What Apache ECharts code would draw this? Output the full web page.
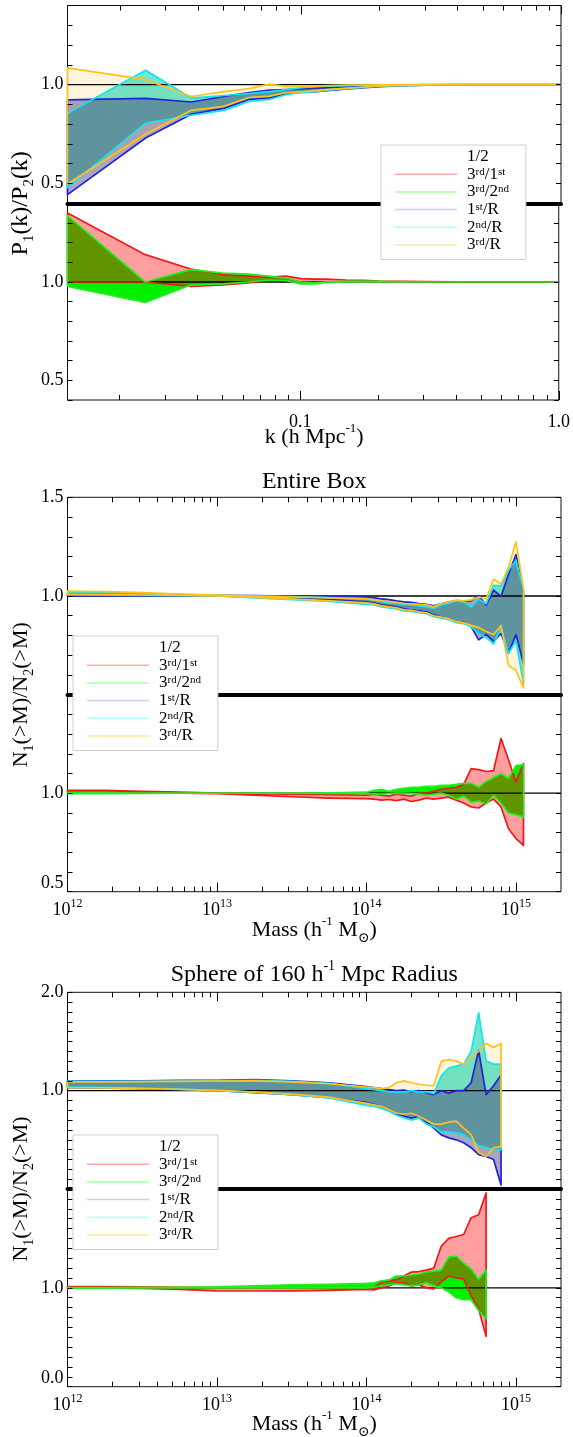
<!DOCTYPE html>
<html><head><meta charset="utf-8">
<script src="https://cdn.jsdelivr.net/npm/echarts@6.0.0/dist/echarts.min.js"></script>
<style>html,body{margin:0;padding:0;background:#fff}#c{width:573px;height:1437px}</style>
</head><body><div id="c"></div><script>
// ---------------- DATA ----------------
// Panel 1: power spectrum ratios, k in h/Mpc
const kValues = [0.01257, 0.02513, 0.03770, 0.05027, 0.06283, 0.07540, 0.08796, 0.10053, 0.11310, 0.12566, 0.15080, 0.17593, 0.20106, 0.25133, 0.30159, 0.40212, 0.50265, 0.62832, 0.75398, 0.87965, 1.0];
const pk1stR_hi = [0.923, 0.930, 0.912, 0.940, 0.960, 0.972, 0.975, 0.978, 0.982, 0.985, 0.990, 0.993, 0.996, 0.998, 0.999, 1.000, 1.000, 1.000, 1.000, 1.000, 1.000];
const pk1stR_lo = [0.444, 0.730, 0.850, 0.880, 0.925, 0.932, 0.955, 0.962, 0.965, 0.970, 0.978, 0.985, 0.990, 0.995, 0.997, 0.999, 1.000, 1.000, 1.000, 1.000, 1.000];
const pk2ndR_hi = [0.855, 1.073, 0.932, 0.945, 0.955, 0.965, 0.975, 0.985, 0.990, 0.992, 0.995, 0.997, 0.998, 0.999, 1.000, 1.000, 1.000, 1.000, 1.000, 1.000, 1.000];
const pk2ndR_lo = [0.480, 0.805, 0.845, 0.870, 0.915, 0.925, 0.950, 0.960, 0.965, 0.972, 0.980, 0.987, 0.992, 0.995, 0.997, 0.999, 1.000, 1.000, 1.000, 1.000, 1.000];
const pk3rdR_hi = [1.085, 1.025, 0.940, 0.965, 0.980, 1.003, 0.990, 0.990, 0.992, 0.995, 0.997, 0.998, 0.999, 1.000, 1.000, 1.000, 1.000, 1.000, 1.000, 1.000, 1.000];
const pk3rdR_lo = [0.498, 0.750, 0.870, 0.890, 0.935, 0.942, 0.960, 0.965, 0.970, 0.975, 0.982, 0.988, 0.993, 0.996, 0.998, 1.000, 1.000, 1.000, 1.000, 1.000, 1.000];
const pk3rd1st_hi = [1.351, 1.139, 1.066, 1.037, 1.030, 1.025, 1.030, 1.017, 1.015, 1.015, 1.010, 1.008, 1.005, 1.003, 1.002, 1.001, 1.000, 1.000, 1.000, 1.000, 1.000];
const pk3rd1st_lo = [1.000, 1.000, 0.978, 0.985, 0.995, 1.008, 1.015, 1.000, 0.995, 1.000, 1.002, 1.003, 1.002, 1.001, 1.000, 1.000, 1.000, 1.000, 1.000, 1.000, 1.000];
const pk3rd2nd_hi = [1.337, 1.000, 1.063, 1.045, 1.040, 1.030, 1.020, 1.000, 0.995, 1.000, 1.003, 1.004, 1.003, 1.001, 1.000, 1.000, 1.000, 1.000, 1.000, 1.000, 1.000];
const pk3rd2nd_lo = [0.978, 0.896, 0.985, 0.990, 1.000, 1.010, 1.008, 0.990, 0.990, 0.998, 1.000, 1.000, 1.000, 1.000, 1.000, 1.000, 1.000, 1.000, 1.000, 1.000, 1.000];

// Panel 2: Entire Box, log10 mass (h^-1 Msun)
const logMassBox = [12.00, 12.25, 12.50, 12.75, 13.00, 13.25, 13.50, 13.75, 14.00, 14.05, 14.10, 14.15, 14.20, 14.25, 14.30, 14.35, 14.40, 14.45, 14.50, 14.55, 14.60, 14.65, 14.70, 14.75, 14.80, 14.85, 14.90, 14.95, 15.00, 15.05];
const box1stR_hi = [1.010, 1.009, 1.008, 1.005, 1.003, 1.002, 1.000, 0.998, 0.995, 0.992, 0.985, 0.982, 0.975, 0.970, 0.968, 0.962, 0.958, 0.950, 0.960, 0.970, 0.975, 0.972, 0.975, 1.003, 0.953, 1.030, 0.998, 1.110, 1.210, 1.020];
const box1stR_lo = [1.000, 1.000, 1.000, 1.000, 1.000, 0.995, 0.990, 0.982, 0.970, 0.965, 0.955, 0.950, 0.945, 0.935, 0.930, 0.925, 0.920, 0.905, 0.895, 0.885, 0.870, 0.868, 0.845, 0.778, 0.805, 0.770, 0.810, 0.710, 0.805, 0.658];
const box2ndR_hi = [1.020, 1.018, 1.014, 1.008, 1.003, 1.000, 0.997, 0.992, 0.985, 0.978, 0.972, 0.965, 0.962, 0.958, 0.955, 0.950, 0.945, 0.938, 0.955, 0.962, 0.975, 0.970, 0.945, 0.985, 0.960, 1.054, 1.050, 1.130, 1.180, 1.030];
const box2ndR_lo = [1.005, 1.004, 1.003, 1.002, 1.000, 0.990, 0.982, 0.972, 0.958, 0.955, 0.945, 0.940, 0.935, 0.925, 0.922, 0.915, 0.910, 0.895, 0.888, 0.880, 0.865, 0.860, 0.845, 0.810, 0.790, 0.758, 0.840, 0.710, 0.770, 0.556];
const box3rdR_hi = [1.025, 1.022, 1.017, 1.010, 1.004, 1.000, 0.995, 0.990, 0.985, 0.980, 0.975, 0.972, 0.968, 0.962, 0.960, 0.958, 0.955, 0.945, 0.962, 0.970, 0.980, 0.975, 0.980, 0.995, 0.985, 1.086, 1.060, 1.147, 1.274, 1.040];
const box3rdR_lo = [1.010, 1.008, 1.005, 1.003, 1.000, 0.993, 0.985, 0.975, 0.965, 0.960, 0.950, 0.945, 0.940, 0.930, 0.928, 0.920, 0.915, 0.900, 0.893, 0.885, 0.870, 0.865, 0.851, 0.840, 0.820, 0.805, 0.850, 0.648, 0.622, 0.535];
const box3rd1st_hi = [1.015, 1.014, 1.010, 1.005, 1.000, 0.998, 0.995, 0.993, 0.990, 0.995, 0.990, 0.985, 0.995, 0.990, 0.985, 1.000, 1.000, 1.010, 1.020, 1.025, 1.030, 1.045, 1.125, 1.120, 1.110, 1.115, 1.278, 1.170, 1.056, 1.151];
const box3rd1st_lo = [1.005, 1.004, 1.003, 1.000, 0.998, 0.990, 0.982, 0.975, 0.972, 0.970, 0.965, 0.968, 0.962, 0.970, 0.958, 0.965, 0.975, 0.970, 0.975, 0.980, 0.965, 0.950, 0.930, 0.925, 0.950, 0.970, 0.930, 0.820, 0.770, 0.735];
const box3rd2nd_hi = [1.002, 1.002, 1.001, 1.000, 1.000, 1.000, 1.000, 1.002, 1.005, 1.015, 1.020, 1.010, 1.020, 1.025, 1.030, 1.030, 1.035, 1.035, 1.040, 1.040, 1.045, 1.050, 1.050, 1.030, 1.060, 1.080, 1.100, 1.075, 1.140, 1.145];
const box3rd2nd_lo = [0.998, 0.998, 0.999, 1.000, 1.000, 1.000, 1.000, 0.999, 0.998, 0.997, 0.995, 0.998, 1.000, 0.999, 0.998, 0.995, 0.990, 0.995, 1.000, 0.990, 0.970, 0.985, 0.955, 0.960, 0.945, 0.990, 0.950, 0.900, 0.890, 0.880];

// Panel 3: Sphere of 160 h^-1 Mpc radius
const logMassSphere = [12.00, 12.25, 12.50, 12.75, 13.00, 13.25, 13.50, 13.75, 14.00, 14.05, 14.10, 14.15, 14.20, 14.25, 14.30, 14.35, 14.40, 14.45, 14.50, 14.55, 14.60, 14.65, 14.70, 14.75, 14.80, 14.85, 14.90];
const sph1stR_hi = [1.098, 1.100, 1.100, 1.105, 1.105, 1.112, 1.100, 1.080, 1.040, 1.030, 1.020, 1.010, 1.000, 1.005, 0.990, 1.000, 0.980, 0.960, 1.000, 0.975, 1.000, 1.000, 1.080, 1.410, 0.960, 1.050, 1.160];
const sph1stR_lo = [1.030, 1.025, 1.020, 1.010, 1.000, 0.980, 0.960, 0.930, 0.880, 0.860, 0.840, 0.800, 0.760, 0.740, 0.720, 0.740, 0.680, 0.620, 0.550, 0.520, 0.500, 0.470, 0.420, 0.350, 0.330, 0.300, 0.040];
const sph2ndR_hi = [1.095, 1.095, 1.095, 1.098, 1.100, 1.105, 1.095, 1.075, 1.020, 1.010, 1.000, 0.990, 0.985, 0.985, 1.000, 0.985, 0.990, 0.970, 1.150, 1.230, 1.250, 1.270, 1.400, 1.790, 1.300, 1.270, 1.270];
const sph2ndR_lo = [1.035, 1.030, 1.025, 1.015, 1.000, 0.985, 0.960, 0.925, 0.850, 0.840, 0.820, 0.790, 0.750, 0.725, 0.700, 0.720, 0.660, 0.630, 0.580, 0.580, 0.570, 0.550, 0.500, 0.440, 0.420, 0.400, 0.400];
const sph3rdR_hi = [1.088, 1.090, 1.092, 1.095, 1.098, 1.100, 1.090, 1.070, 1.037, 1.030, 1.020, 1.030, 1.080, 1.100, 1.080, 1.065, 1.055, 1.050, 1.300, 1.315, 1.300, 1.270, 1.340, 1.400, 1.480, 1.440, 1.480];
const sph3rdR_lo = [1.030, 1.028, 1.022, 1.012, 1.002, 0.985, 0.965, 0.935, 0.870, 0.855, 0.840, 0.805, 0.770, 0.760, 0.770, 0.740, 0.700, 0.660, 0.660, 0.680, 0.690, 0.620, 0.550, 0.370, 0.330, 0.420, 0.430];
const sph3rd1st_hi = [1.013, 1.012, 1.010, 1.005, 1.000, 1.000, 1.000, 0.995, 0.985, 1.000, 1.060, 1.070, 1.080, 1.120, 1.160, 1.165, 1.180, 1.200, 1.420, 1.500, 1.520, 1.540, 1.710, 1.740, 1.960];
const sph3rd1st_lo = [1.000, 0.998, 0.995, 0.985, 0.970, 0.968, 0.970, 0.975, 0.985, 0.980, 1.000, 1.020, 1.050, 1.050, 1.020, 1.030, 1.000, 0.990, 1.060, 1.120, 1.100, 1.090, 0.920, 0.785, 0.510];
const sph3rd2nd_hi = [1.003, 1.003, 1.004, 1.006, 1.010, 1.020, 1.030, 1.035, 1.045, 1.050, 1.070, 1.080, 1.120, 1.120, 1.130, 1.140, 1.160, 1.170, 1.180, 1.310, 1.320, 1.250, 1.190, 1.085, 1.180];
const sph3rd2nd_lo = [0.998, 0.998, 0.999, 1.000, 1.000, 1.000, 1.000, 1.000, 1.000, 1.005, 1.020, 1.030, 1.040, 1.030, 1.020, 1.030, 1.050, 1.020, 1.000, 0.960, 0.900, 0.880, 0.880, 0.770, 0.690];

// Ticks and labels
const kMajorTicks = [0.1, 1.0];
const kMajorLabels = ['0.1', '1.0'];
const kMinorTicks = [0.02, 0.03, 0.04, 0.05, 0.06, 0.07, 0.08, 0.09, 0.2, 0.3, 0.4, 0.5, 0.6, 0.7, 0.8, 0.9];
const massMajorExp = [12, 13, 14, 15];
const massMantissas = [2, 3, 4, 5, 6, 7, 8, 9];
const massMax = 2e15;
const yRanges = [[0.4, 1.4], [0.4, 1.4], [0.5, 1.5], [0.5, 1.5], [0.0, 2.0], [0.0, 2.0]];
const yLabelValues = [[0.5, 1.0], [0.5, 1.0], [1.0, 1.5], [0.5, 1.0], [1.0, 2.0], [0.0, 1.0]];
const refValue = 1.0;
const legendNames = ['1/2', '3rd/1st', '3rd/2nd', '1st/R', '2nd/R', '3rd/R'];

// ---------------- STYLE ----------------
const FONT = '"Liberation Serif", "DejaVu Serif", serif';
const COL = {
  blue: '#2222d8', cyan: '#14e4f0', orange: '#ffc21a', red: '#f01a1a', green: '#22ee22',
  fO: 'rgba(255,200,80,0.2)', fC: 'rgba(0,210,170,0.55)', fB: 'rgba(70,55,120,0.45)',
  fG: '#00f000', fR: 'rgba(255,0,0,0.38)'
};
const legendColors = ['rgba(0,0,0,0)', '#ffaaaa', '#aaffaa', '#ccccff', '#b0ffff', '#ffe8a0'];
const legendRich = {
  '1/2': '{g|}{n|1/2}',
  '3rd/1st': '{g|}{n|3}{s|rd}{n|/1}{s|st}',
  '3rd/2nd': '{g|}{n|3}{s|rd}{n|/2}{s|nd}',
  '1st/R': '{g|}{n|1}{s|st}{n|/R}',
  '2nd/R': '{g|}{n|2}{s|nd}{n|/R}',
  '3rd/R': '{g|}{n|3}{s|rd}{n|/R}'
};
const gridDefs = [
  {top: 5.5, height: 197.8}, {top: 203.3, height: 196.7},
  {top: 497.3, height: 197.4}, {top: 694.7, height: 197},
  {top: 992.3, height: 196.7}, {top: 1189, height: 197.7}
];
const legendPos = [{left: 381, top: 145}, {left: 73, top: 636}, {left: 73, top: 1135}];

// ---------------- BUILD ----------------
const lg = v => Math.log10(v);
const massMinor = [];
massMajorExp.forEach(e => massMantissas.forEach(m => { const v = m * Math.pow(10, e); if (v < massMax) massMinor.push(v); }));

const panels = [
  { xs: kValues.map(lg), xMin: lg(kValues[0]), xMax: lg(1.0),
    majors: kMajorTicks.map(lg), majorText: kMajorLabels.map(s => '{b|' + s + '}'), minors: kMinorTicks.map(lg), labelMargin: 9,
    up: {b: [pk1stR_lo, pk1stR_hi], c: [pk2ndR_lo, pk2ndR_hi], o: [pk3rdR_lo, pk3rdR_hi]},
    dn: {r: [pk3rd1st_lo, pk3rd1st_hi], g: [pk3rd2nd_lo, pk3rd2nd_hi]} },
  { xs: logMassBox, xMin: 12, xMax: lg(massMax),
    majors: massMajorExp, majorText: massMajorExp.map(e => '{b|10}{p|' + e + '}'), minors: massMinor.map(lg), labelMargin: 6,
    up: {b: [box1stR_lo, box1stR_hi], c: [box2ndR_lo, box2ndR_hi], o: [box3rdR_lo, box3rdR_hi]},
    dn: {r: [box3rd1st_lo, box3rd1st_hi], g: [box3rd2nd_lo, box3rd2nd_hi]} },
  { xs: logMassSphere, xMin: 12, xMax: lg(massMax),
    majors: massMajorExp, majorText: massMajorExp.map(e => '{b|10}{p|' + e + '}'), minors: massMinor.map(lg), labelMargin: 6,
    up: {b: [sph1stR_lo, sph1stR_hi], c: [sph2ndR_lo, sph2ndR_hi], o: [sph3rdR_lo, sph3rdR_hi]},
    dn: {r: [sph3rd1st_lo, sph3rd1st_hi], g: [sph3rd2nd_lo, sph3rd2nd_hi]} }
];

const grid = gridDefs.map(g => ({left: 67.5, width: 493.5, top: g.top, height: g.height, show: true,
  borderColor: '#111', borderWidth: 1, backgroundColor: 'transparent'}));
const xAxis = [], yAxis = [], series = [];
const noLine = {show: false, onZero: false};
const addX = o => (xAxis.push(Object.assign({type: 'value', splitLine: {show: false}, z: 9}, o)), xAxis.length - 1);
const addY = o => (yAxis.push(Object.assign({type: 'value', splitLine: {show: false}, z: 9}, o)), yAxis.length - 1);
const tickStyle = {color: '#000', width: 1};
const labelRich = {
  b: {fontFamily: FONT, fontSize: 18, color: '#000', lineHeight: 22, verticalAlign: 'bottom'},
  p: {fontFamily: FONT, fontSize: 12, color: '#000', lineHeight: 22, verticalAlign: 'top'}
};
const yLabelRich = {lo: {fontFamily: FONT, fontSize: 18, color: '#000', padding: [0, 0, 16, 0]}};

function bandFill(name, xs, lo, hi, fill, xi, yi, z) {
  const rows = lo.map((v, i) => [xs[i], v, hi[i]]);
  return {type: 'custom', name, xAxisIndex: xi, yAxisIndex: yi, z, silent: true, animation: false,
    data: rows, encode: {x: 0, y: [1, 2]},
    renderItem: (params, api) => {
      if (params.dataIndex !== 0) return null;
      const pts = rows.map(r => api.coord([r[0], r[2]])).concat(rows.slice().reverse().map(r => api.coord([r[0], r[1]])));
      return {type: 'polygon', shape: {points: pts}, style: {fill: fill, stroke: null}};
    }};
}
function bandEdge(name, xs, lo, hi, color, xi, yi, z) {
  const rows = lo.map((v, i) => [xs[i], v, hi[i]]);
  return {type: 'custom', name, xAxisIndex: xi, yAxisIndex: yi, z, silent: true, animation: false,
    data: rows, encode: {x: 0, y: [1, 2]},
    renderItem: (params, api) => {
      if (params.dataIndex !== 0) return null;
      const pts = rows.map(r => api.coord([r[0], r[2]])).concat(rows.slice().reverse().map(r => api.coord([r[0], r[1]])));
      return {type: 'polygon', shape: {points: pts}, style: {fill: null, stroke: color, lineWidth: 1.7, lineJoin: 'round'}};
    }};
}

panels.forEach((P, p) => {
  const gu = 2 * p, gl = 2 * p + 1;
  const base = {min: P.xMin, max: P.xMax};
  // upper grid x axes: thick separator at bottom, mirrored ticks at top
  const xU = addX(Object.assign({gridIndex: gu, position: 'bottom',
    axisLine: {show: true, onZero: false, lineStyle: {color: '#000', width: 4}}, axisTick: {show: false}, axisLabel: {show: false}}, base));
  addX(Object.assign({gridIndex: gu, position: 'top', axisLine: noLine,
    axisTick: {show: true, inside: true, length: 9, customValues: P.majors, lineStyle: tickStyle}, axisLabel: {show: false}}, base));
  addX(Object.assign({gridIndex: gu, position: 'top', axisLine: noLine,
    axisTick: {show: true, inside: true, length: 5, customValues: P.minors, lineStyle: tickStyle}, axisLabel: {show: false}}, base));
  // lower grid x axes
  const xL = addX(Object.assign({gridIndex: gl, position: 'bottom', axisLine: noLine,
    axisTick: {show: true, inside: true, length: 9, customValues: P.majors, lineStyle: tickStyle},
    axisLabel: {show: true, customValues: P.majors, margin: P.labelMargin, hideOverlap: false,
      formatter: v => { const i = P.majors.findIndex(m => Math.abs(m - v) < 1e-6); return i >= 0 ? P.majorText[i] : ''; },
      rich: labelRich}}, base));
  addX(Object.assign({gridIndex: gl, position: 'bottom', axisLine: noLine,
    axisTick: {show: true, inside: true, length: 5, customValues: P.minors, lineStyle: tickStyle}, axisLabel: {show: false}}, base));
  // y axes
  const yIdx = [gu, gl].map(g => {
    const [mn, mx] = yRanges[g];
    const labs = yLabelValues[g];
    const yi = addY({gridIndex: g, position: 'left', min: mn, max: mx, interval: 0.1,
      axisLine: noLine, axisTick: {show: true, inside: true, length: 5, lineStyle: tickStyle},
      axisLabel: {show: true, showMinLabel: true, showMaxLabel: true, margin: 4, fontFamily: FONT, fontSize: 18, color: '#000',
        rich: yLabelRich,
        formatter: v => {
          if (!labs.some(L => Math.abs(L - v) < 1e-6)) return '';
          const s = v.toFixed(1);
          return (Math.abs(v - mn) < 1e-6 && g % 2 === 1 && p > 0) ? '{lo|' + s + '}' : s;
        }}});
    addY({gridIndex: g, position: 'right', min: mn, max: mx, interval: 0.1,
      axisLine: noLine, axisTick: {show: true, inside: true, length: 5, lineStyle: tickStyle}, axisLabel: {show: false}});
    return yi;
  });
  const [yU, yL] = yIdx;
  // upper fills
  series.push(bandFill('3rd/R', P.xs, P.up.o[0], P.up.o[1], COL.fO, xU, yU, 2));
  series.push(bandFill('2nd/R', P.xs, P.up.c[0], P.up.c[1], COL.fC, xU, yU, 3));
  series.push(bandFill('1st/R', P.xs, P.up.b[0], P.up.b[1], COL.fB, xU, yU, 4));
  // lower fills
  series.push(bandFill('3rd/2nd', P.xs, P.dn.g[0], P.dn.g[1], COL.fG, xL, yL, 2));
  series.push(bandFill('3rd/1st', P.xs, P.dn.r[0], P.dn.r[1], COL.fR, xL, yL, 3));
  // reference lines at ratio 1
  [[xU, yU], [xL, yL]].forEach(([xi, yi]) => series.push({type: 'line', name: 'ref', xAxisIndex: xi, yAxisIndex: yi,
    data: [[P.xMin, refValue], [P.xMax, refValue]], symbol: 'none', lineStyle: {color: '#000', width: 1.3},
    z: 5, silent: true, animation: false}));
  // band outlines
  series.push(bandEdge('1st/R', P.xs, P.up.b[0], P.up.b[1], COL.blue, xU, yU, 6));
  series.push(bandEdge('2nd/R', P.xs, P.up.c[0], P.up.c[1], COL.cyan, xU, yU, 7));
  series.push(bandEdge('3rd/R', P.xs, P.up.o[0], P.up.o[1], COL.orange, xU, yU, 8));
  series.push(bandEdge('3rd/1st', P.xs, P.dn.r[0], P.dn.r[1], COL.red, xL, yL, 6));
  series.push(bandEdge('3rd/2nd', P.xs, P.dn.g[0], P.dn.g[1], COL.green, xL, yL, 7));
});
series.push({type: 'custom', name: '1/2', xAxisIndex: 0, yAxisIndex: 0, data: [], renderItem: () => null});

const legend = legendPos.map(pos => ({
  orient: 'vertical', left: pos.left, top: pos.top, itemWidth: 62, itemHeight: 1.5, itemGap: 0.7, icon: 'rect',
  backgroundColor: '#fff', borderColor: '#cfcfcf', borderWidth: 1, padding: [3, 17, 6, 14],
  selectedMode: false, z: 20,
  data: legendNames.map((n, i) => ({name: n, icon: 'rect', itemStyle: {color: legendColors[i], borderWidth: 0}})),
  formatter: n => legendRich[n],
  textStyle: {fontFamily: FONT, fontSize: 17, lineHeight: 16, color: '#000',
    rich: {
      g: {width: 5, lineHeight: 16},
      n: {fontFamily: FONT, fontSize: 17, lineHeight: 16, color: '#000'},
      s: {fontFamily: FONT, fontSize: 11, lineHeight: 16, color: '#000', verticalAlign: 'top'}
    }}
}));

const nameRich = {
  n: {fontFamily: FONT, fontSize: 22, lineHeight: 30, fill: '#000'},
  sb: {fontFamily: FONT, fontSize: 14, lineHeight: 30, fill: '#000', verticalAlign: 'bottom'},
  sp: {fontFamily: FONT, fontSize: 13, lineHeight: 30, fill: '#000', verticalAlign: 'top'}
};
const pRich = {
  n: {fontFamily: FONT, fontSize: 24, lineHeight: 32, fill: '#000'},
  sb: {fontFamily: FONT, fontSize: 15, lineHeight: 32, fill: '#000', verticalAlign: 'bottom'}
};
const titleRich = {
  n: {fontFamily: FONT, fontSize: 24, lineHeight: 32, fill: '#000'},
  sp: {fontFamily: FONT, fontSize: 14, lineHeight: 32, fill: '#000', verticalAlign: 'top'}
};
const cx = 67.5 + 493.5 / 2;
function txt(x, y, text, rich, rot) {
  return {type: 'text', x, y, rotation: rot || 0, z: 30, silent: true,
    style: {text, rich, align: 'center', verticalAlign: 'middle', fill: '#000'}};
}
const graphic = [
  txt(cx, 481.7, '{n|Entire Box}', titleRich),
  txt(cx, 975, '{n|Sphere of 160 h}{sp|-1}{n| Mpc Radius}', titleRich),
  txt(cx, 437, '{n|k (h Mpc}{sp|-1}{n|)}', nameRich),
  txt(cx, 930, '{n|Mass (h}{sp|-1}{n| M}{sb|⊙}{n|)}', nameRich),
  txt(cx, 1424, '{n|Mass (h}{sp|-1}{n| M}{sb|⊙}{n|)}', nameRich),
  txt(21, 203.3, '{n|P}{sb|1}{n|(k)/P}{sb|2}{n|(k)}', pRich, Math.PI / 2),
  txt(21, 694.7, '{n|N}{sb|1}{n|(>M)/N}{sb|2}{n|(>M)}', nameRich, Math.PI / 2),
  txt(21, 1189, '{n|N}{sb|1}{n|(>M)/N}{sb|2}{n|(>M)}', nameRich, Math.PI / 2)
];

const chart = echarts.init(document.getElementById('c'), null, {renderer: 'canvas', width: 573, height: 1437});
chart.setOption({animation: false, backgroundColor: '#fff', grid, xAxis, yAxis, series, legend, graphic});
</script></body></html>
